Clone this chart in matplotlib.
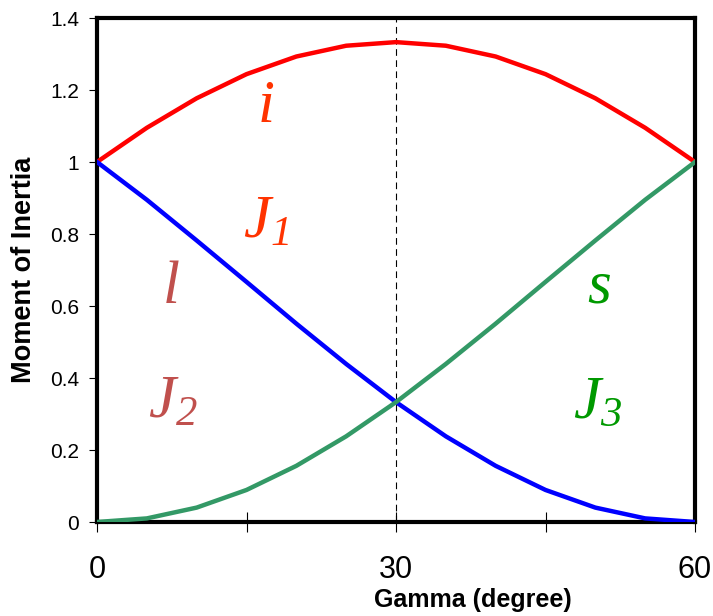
import matplotlib
matplotlib.use("Agg")
import matplotlib.pyplot as plt
from matplotlib.ticker import MultipleLocator, FixedLocator, FuncFormatter

# Triaxial rotor: moments of inertia vs. gamma (degree)
gamma = [0, 5, 10, 15, 20, 25, 30, 35, 40, 45, 50, 55, 60]
J1 = [1.000, 1.095, 1.177, 1.244, 1.293, 1.323, 1.333, 1.323, 1.293, 1.244, 1.177, 1.095, 1.000]
J2 = [1.000, 0.895, 0.782, 0.667, 0.551, 0.439, 0.333, 0.238, 0.156, 0.089, 0.040, 0.010, 0.000]
J3 = [0.000, 0.010, 0.040, 0.089, 0.156, 0.238, 0.333, 0.439, 0.551, 0.667, 0.782, 0.895, 1.000]
x_labels = {0: "0", 30: "30", 60: "60"}
y_ticks = [0, 0.2, 0.4, 0.6, 0.8, 1.0, 1.2, 1.4]

plt.rcParams["font.family"] = ["Liberation Sans", "DejaVu Sans"]
plt.rcParams["mathtext.fontset"] = "custom"
plt.rcParams["mathtext.it"] = "Liberation Serif:italic"
plt.rcParams["mathtext.rm"] = "Liberation Serif:italic"

fig = plt.figure(figsize=(7.13, 6.16), dpi=100)
ax = fig.add_axes([97 / 713, 1 - 522 / 616, 598 / 713, 504 / 616])

ax.plot(gamma, J1, color="#FF0000", lw=3.2, solid_joinstyle="round", zorder=3)
ax.plot(gamma, J2, color="#0000FF", lw=3.2, solid_joinstyle="round", zorder=3)
ax.plot(gamma, J3, color="#339966", lw=3.2, solid_joinstyle="round", zorder=3)
ax.axvline(30, color="black", lw=0.8, ls=(0, (6, 4)), zorder=2)

ax.set_xlim(0, 60)
ax.set_ylim(0, 1.4)
ax.xaxis.set_major_locator(MultipleLocator(15))
ax.xaxis.set_major_formatter(FuncFormatter(lambda v, p: x_labels.get(int(round(v)), "")))
ax.yaxis.set_major_locator(FixedLocator(y_ticks))
ax.yaxis.set_major_formatter(FuncFormatter(lambda v, p: "%g" % v))
ax.tick_params(axis="x", direction="inout", length=14, width=0.8, labelsize=22, pad=17)
ax.tick_params(axis="y", direction="out", length=6, width=0.8, labelsize=15, pad=7)
for s in ax.spines.values():
    s.set_linewidth(3)

fig.text(24 / 713, 1 - 270 / 616, "Moment of Inertia", rotation=90, ha="center", va="center",
         fontsize=19.5, fontweight="bold")
fig.text(473 / 713, 1 - 600 / 616, "Gamma (degree)", ha="center", va="center",
         fontsize=18, fontweight="bold")

# Curve annotations
red = "#FF3300"
brown = "#C0504D"
green = "#009900"
ax.text(16.9, 1.111, r"$i$", color=red, fontsize=44, ha="center", va="baseline")
ax.text(17.0, 0.789, r"$J_1$", color=red, fontsize=44, ha="center", va="baseline")
ax.text(7.4, 0.608, r"$l$", color=brown, fontsize=44, ha="center", va="baseline")
ax.text(7.6, 0.289, r"$J_2$", color=brown, fontsize=44, ha="center", va="baseline")
ax.text(50.4, 0.611, r"$s$", color=green, fontsize=44, ha="center", va="baseline")
ax.text(50.2, 0.289, r"$J_3$", color=green, fontsize=44, ha="center", va="baseline")

fig.savefig("out.png", dpi=100)
